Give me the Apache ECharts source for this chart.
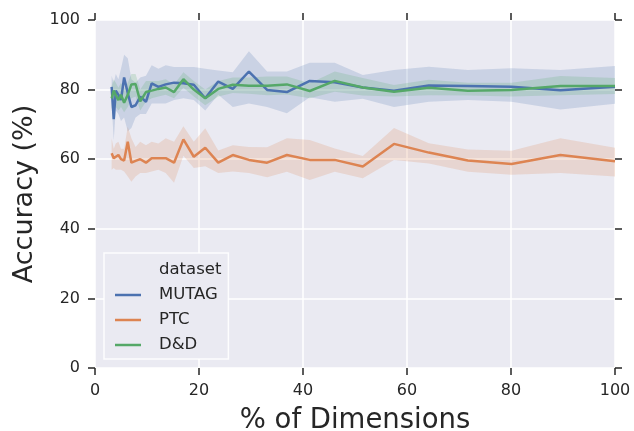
<!DOCTYPE html>
<html><head><meta charset="utf-8">
<script src="https://cdn.jsdelivr.net/npm/echarts@6/dist/echarts.min.js"></script>
<style>html,body{margin:0;padding:0;background:#fff}#c{width:634px;height:431px}</style>
</head><body><div id="c"></div>
<script>
// % of dimensions (x)
const dims = [3.2, 3.6, 4.0, 4.5, 5.0, 5.6, 6.3, 7.0, 7.8, 8.7, 9.8, 10.9, 12.2, 13.6, 15.2, 17.0, 19.0, 21.2, 23.7, 26.5, 29.6, 33.1, 36.9, 41.3, 46.1, 51.5, 57.5, 64.2, 71.7, 80.1, 89.5, 100];

const mutagMean = [80.8, 71.5, 79.7, 78.5, 77.0, 83.5, 79.0, 75.0, 75.5, 78.0, 76.5, 81.8, 80.8, 81.5, 82.0, 81.8, 81.4, 77.5, 82.3, 80.2, 85.2, 79.9, 79.3, 82.5, 82.1, 80.6, 79.7, 81.2, 81.0, 80.8, 79.8, 80.8];
const mutagLo   = [76.0, 65.5, 74.0, 73.0, 71.0, 72.0, 68.0, 69.0, 72.0, 73.0, 73.0, 76.0, 76.0, 76.0, 77.0, 77.5, 77.0, 74.0, 78.5, 75.0, 76.0, 75.0, 73.2, 77.8, 76.5, 77.4, 75.0, 76.5, 77.0, 76.5, 74.3, 75.9];
const mutagHi   = [84.0, 82.0, 84.5, 83.0, 86.0, 90.0, 89.0, 83.0, 82.0, 83.5, 84.0, 87.0, 86.0, 87.0, 86.5, 86.5, 86.5, 86.0, 85.5, 85.0, 91.0, 85.2, 85.2, 87.7, 87.7, 84.2, 85.6, 86.6, 85.6, 86.1, 85.6, 86.8];

const ptcMean = [61.7, 60.3, 60.7, 61.2, 60.0, 59.6, 65.0, 59.0, 59.5, 60.0, 59.0, 60.3, 60.3, 60.3, 59.0, 65.7, 60.7, 63.3, 59.0, 61.2, 59.8, 59.0, 61.2, 59.8, 59.8, 57.9, 64.4, 61.9, 59.6, 58.6, 61.2, 59.4];
const ptcLo   = [57.0, 57.5, 57.0, 57.0, 57.0, 56.5, 55.0, 53.5, 55.0, 56.0, 56.0, 56.5, 57.0, 56.0, 53.2, 61.0, 57.5, 58.0, 56.0, 56.5, 56.0, 54.8, 56.4, 54.0, 56.4, 54.5, 59.8, 58.8, 56.4, 55.5, 56.0, 55.0];
const ptcHi   = [66.0, 63.0, 64.5, 65.0, 63.0, 63.0, 69.3, 66.0, 63.5, 65.0, 64.0, 65.0, 64.5, 66.0, 65.0, 69.5, 65.0, 68.9, 62.5, 64.0, 63.5, 63.4, 66.0, 65.5, 63.1, 60.9, 69.0, 64.6, 62.8, 62.4, 66.0, 63.3];

const ddMean = [77.5, 79.7, 78.4, 77.0, 78.5, 76.2, 78.5, 81.5, 81.6, 76.6, 79.3, 79.7, 80.2, 80.6, 79.3, 83.0, 80.0, 77.5, 80.2, 81.4, 81.1, 81.1, 81.5, 79.6, 82.5, 80.6, 79.4, 80.5, 79.7, 79.9, 81.0, 81.0];
const ddLo   = [74.5, 76.0, 75.0, 74.0, 75.0, 73.5, 75.0, 77.5, 78.0, 74.0, 76.5, 77.5, 78.0, 78.5, 77.5, 80.5, 78.0, 75.5, 78.0, 79.0, 78.8, 78.4, 78.6, 77.5, 79.4, 78.3, 78.0, 78.4, 78.3, 78.0, 78.4, 78.7];
const ddHi   = [81.0, 83.0, 82.0, 80.5, 82.0, 80.0, 82.0, 84.5, 84.5, 80.0, 82.5, 82.5, 82.5, 83.0, 81.5, 85.0, 82.5, 80.0, 82.5, 83.5, 83.5, 83.8, 83.8, 81.8, 85.2, 83.3, 81.3, 82.8, 82.0, 82.0, 83.9, 83.3];

const xTicks = [0, 20, 40, 60, 80, 100];
const yTicks = [0, 20, 40, 60, 80, 100];

const names = ['MUTAG', 'PTC', 'D&D'];
const colors = ['#4C72B0', '#DD8452', '#55A868'];
const bandColors = ['rgba(76,114,176,0.2)', 'rgba(221,132,82,0.2)', 'rgba(85,168,104,0.2)'];
const means = [mutagMean, ptcMean, ddMean];
const los = [mutagLo, ptcLo, ddLo];
const his = [mutagHi, ptcHi, ddHi];

const FONT = 'DejaVu Sans';
const TXT = '#262626';

const series = [];
names.forEach((n, k) => {
  series.push({
    name: n + ' band', type: 'custom', silent: true, z: 1,
    encode: { x: 0, y: [1, 2] },
    data: dims.map((x, i) => [x, los[k][i], his[k][i]]),
    renderItem: function (params, api) {
      if (params.dataIndex !== 0) return null;
      const upper = dims.map((x, i) => api.coord([x, his[k][i]]));
      const lower = dims.map((x, i) => api.coord([x, los[k][i]])).reverse();
      return {
        type: 'polygon',
        shape: { points: upper.concat(lower) },
        style: { fill: bandColors[k], stroke: null }
      };
    }
  });
});
series.push({ name: 'dataset', type: 'line', data: [], itemStyle: { color: 'rgba(0,0,0,0)' } });
series.push({ name: 'frame', type: 'line', xAxisIndex: 1, yAxisIndex: 1, symbol: 'none', silent: true,
  lineStyle: { opacity: 0 }, data: [[0, 0], [100, 100]] });
names.forEach((n, k) => {
  series.push({
    name: n, type: 'line', symbol: 'none', z: 3,
    lineStyle: { width: 2.5, color: colors[k] }, itemStyle: { color: colors[k] },
    data: dims.map((x, i) => [x, means[k][i]])
  });
});

const tickStyle = { show: true, length: 7, lineStyle: { color: TXT, width: 1.5 } };

const chart = echarts.init(document.getElementById('c'), null, { renderer: 'canvas' });
chart.setOption({
  animation: false,
  backgroundColor: '#ffffff',
  textStyle: { fontFamily: FONT },
  grid: { left: 95, right: 19, top: 20, bottom: 63, show: true, backgroundColor: '#EAEAF2', borderWidth: 0,
    containLabel: false, outerBoundsMode: 'none' },
  xAxis: [{
    type: 'value', min: 0, max: 100, interval: 20, position: 'bottom',
    axisLine: { show: false, onZero: false }, axisTick: tickStyle,
    axisLabel: { fontSize: 16, color: TXT, margin: 15, fontFamily: FONT,
      formatter: v => xTicks.includes(v) ? String(v) : '' },
    splitLine: { show: true, lineStyle: { color: '#ffffff', width: 1.5 } },
    name: '% of Dimensions', nameLocation: 'middle', nameGap: 39,
    nameTextStyle: { fontSize: 27.5, color: TXT, fontFamily: FONT }
  }, {
    type: 'value', min: 0, max: 100, interval: 20, position: 'top',
    axisLine: { show: false, onZero: false }, axisTick: tickStyle, axisLabel: { show: false }, splitLine: { show: false }
  }],
  yAxis: [{
    type: 'value', min: 0, max: 100, interval: 20, position: 'left',
    axisLine: { show: false, onZero: false }, axisTick: tickStyle,
    axisLabel: { fontSize: 16, color: TXT, margin: 15, fontFamily: FONT,
      formatter: v => yTicks.includes(v) ? String(v) : '' },
    splitLine: { show: true, lineStyle: { color: '#ffffff', width: 1.5 } },
    name: 'Accuracy (%)', nameLocation: 'middle', nameGap: 43,
    nameTextStyle: { fontSize: 27, color: TXT, fontFamily: FONT }
  }, {
    type: 'value', min: 0, max: 100, interval: 20, position: 'right',
    axisLine: { show: false, onZero: false }, axisTick: tickStyle, axisLabel: { show: false }, splitLine: { show: false }
  }],
  legend: {
    orient: 'vertical', left: 104, top: 253,
    data: [{ name: 'dataset', icon: 'none' }, 'MUTAG', 'PTC', 'D&D'],
    icon: 'rect', itemWidth: 26, itemHeight: 2.5, itemGap: 5,
    padding: [7, 7, 4, 11],
    backgroundColor: '#EAEAF2', borderColor: 'rgba(255,255,255,0.9)', borderWidth: 1.5,
    textStyle: { fontSize: 16.5, color: TXT, fontFamily: FONT, lineHeight: 20, padding: [0, 0, 0, 13] },
    selectedMode: false
  },
  series: series
});
</script>
</body></html>
